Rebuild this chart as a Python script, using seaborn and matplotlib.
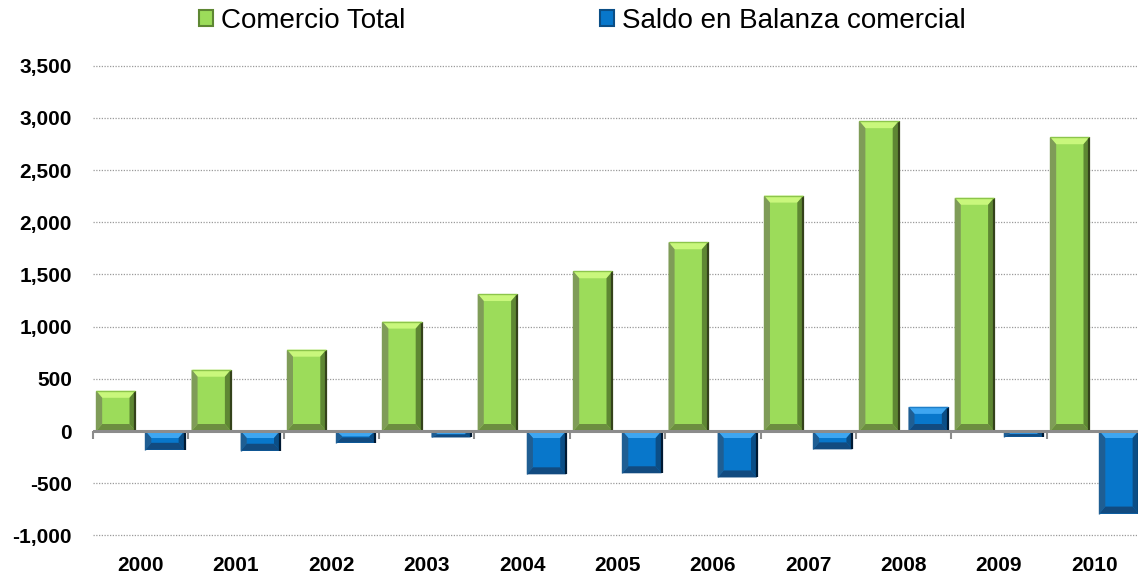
import matplotlib
matplotlib.use("Agg")
import matplotlib.pyplot as plt
from matplotlib.patches import Polygon
import seaborn as sns
import pandas as pd

years = ["2000", "2001", "2002", "2003", "2004", "2005", "2006", "2007", "2008", "2009", "2010"]
comercio_total = [385, 587, 779, 1048, 1312, 1530, 1808, 2255, 2968, 2234, 2814]
saldo_balanza = [-180, -189, -112, -62, -415, -405, -445, -176, 231, -55, -791]
series_names = ["Comercio Total", "Saldo en Balanza comercial"]
y_ticks = [-1000, -500, 0, 500, 1000, 1500, 2000, 2500, 3000, 3500]

df = pd.DataFrame({
    "year": years * 2,
    "serie": [series_names[0]] * len(years) + [series_names[1]] * len(years),
    "valor": comercio_total + saldo_balanza,
})

sns.set_style("white")
plt.rcParams["font.family"] = ["Liberation Sans", "DejaVu Sans"]
plt.rcParams["text.color"] = "black"

GREEN = "#9CDC5A"
BLUE = "#0877CB"

fig = plt.figure(figsize=(11.38, 5.83), dpi=100)
ax = fig.add_axes([92.7 / 1138, 47.6 / 583, 11 * 95.4 / 1138, 0.8058])

sns.barplot(data=df, x="year", y="valor", hue="serie", order=years,
            hue_order=series_names, palette=[GREEN, BLUE], width=1.03, gap=0.2,
            linewidth=0, saturation=1, ax=ax, zorder=3)

handles, labels = ax.get_legend_handles_labels()
if ax.get_legend() is not None:
    ax.get_legend().remove()

bevel_cols = {
    GREEN: dict(top="#C9F77C", rim="#8CC54B", left="#7F9C58", right="#34421B",
                right_in="#5E8733", bottom="#6C8E40"),
    BLUE: dict(top="#3EA6F1", rim="#1F7FC8", left="#1F5E93", right="#001A33",
               right_in="#0B4E86", bottom="#124B80"),
}

px_x = 95.4      # pixels per category
px_y = 0.1044    # pixels per data unit
for p in list(ax.patches):
    fc = matplotlib.colors.to_hex(p.get_facecolor())
    key = GREEN if fc.lower() == GREEN.lower() else BLUE
    c = bevel_cols[key]
    x0, w = p.get_x(), p.get_width()
    y, h = p.get_y(), p.get_height()
    if w <= 0 or h == 0:
        continue
    lo, hi = min(y, y + h), max(y, y + h)
    bx = 6 / px_x
    by = min(7 / px_y, (hi - lo) / 2.2)
    polys = [
        ([(x0, hi), (x0 + w, hi), (x0 + w - bx, hi - by), (x0 + bx, hi - by)], c["top"]),
        ([(x0, lo), (x0 + w, lo), (x0 + w - bx, lo + by), (x0 + bx, lo + by)], c["bottom"]),
        ([(x0, lo), (x0 + bx, lo + by), (x0 + bx, hi - by), (x0, hi)], c["left"]),
        ([(x0 + w, lo), (x0 + w - bx, lo + by), (x0 + w - bx, hi - by), (x0 + w, hi)], c["right_in"]),
    ]
    for pts, col in polys:
        ax.add_patch(Polygon(pts, closed=True, facecolor=col, edgecolor="none", zorder=4))
    ax.plot([x0 + w, x0 + w], [lo, hi], color=c["right"], lw=1.6, zorder=5,
            solid_capstyle="butt")
    ax.plot([x0, x0], [lo, hi], color=c["left"], lw=1.0, zorder=5, solid_capstyle="butt")
    ax.plot([x0, x0 + w], [hi, hi], color=c["rim"], lw=1.0, zorder=5, solid_capstyle="butt")

ax.set_xlim(-0.5, 10.5)
ax.set_ylim(-1000, 3500)
ax.set_yticks(y_ticks)
ax.set_yticklabels([f"{v:,}" for v in y_ticks])
ax.set_xlabel("")
ax.set_ylabel("")

ax.set_axisbelow(True)
ax.yaxis.grid(True, linestyle=(0, (1, 1.2)), color="#9A9A9A", linewidth=0.9, zorder=0)
ax.xaxis.grid(False)
for gl in ax.get_ygridlines():
    gl.set_clip_on(False)
for s in ax.spines.values():
    s.set_visible(False)

ax.axhline(0, color="#8C8C8C", lw=2.2, zorder=6)
bounds = [i - 0.5 for i in range(len(years) + 1)]
ax.plot(bounds, [0] * len(bounds), ls="none", marker=3, ms=6, mew=1.5,
        color="#8C8C8C", zorder=6, clip_on=False)

ax.tick_params(axis="both", length=0)
ax.tick_params(axis="y", pad=15, labelsize=15, labelcolor="black")
ax.tick_params(axis="x", pad=15, labelsize=15, labelcolor="black")
for t in ax.get_yticklabels() + ax.get_xticklabels():
    t.set_fontweight("bold")

leg = fig.legend(handles, labels, loc="center", bbox_to_anchor=(582.5 / 1138, 1 - 21 / 583),
                 ncol=2, frameon=False, fontsize=20, handlelength=0.5, handleheight=0.5,
                 handletextpad=0.3, columnspacing=7.0, borderpad=0, borderaxespad=0,
                 labelcolor="black")
for hdl, col in zip(leg.legend_handles, [GREEN, BLUE]):
    hdl.set_edgecolor(bevel_cols[col]["right_in"])
    hdl.set_linewidth(1.5)

fig.savefig("out.png", dpi=100)
